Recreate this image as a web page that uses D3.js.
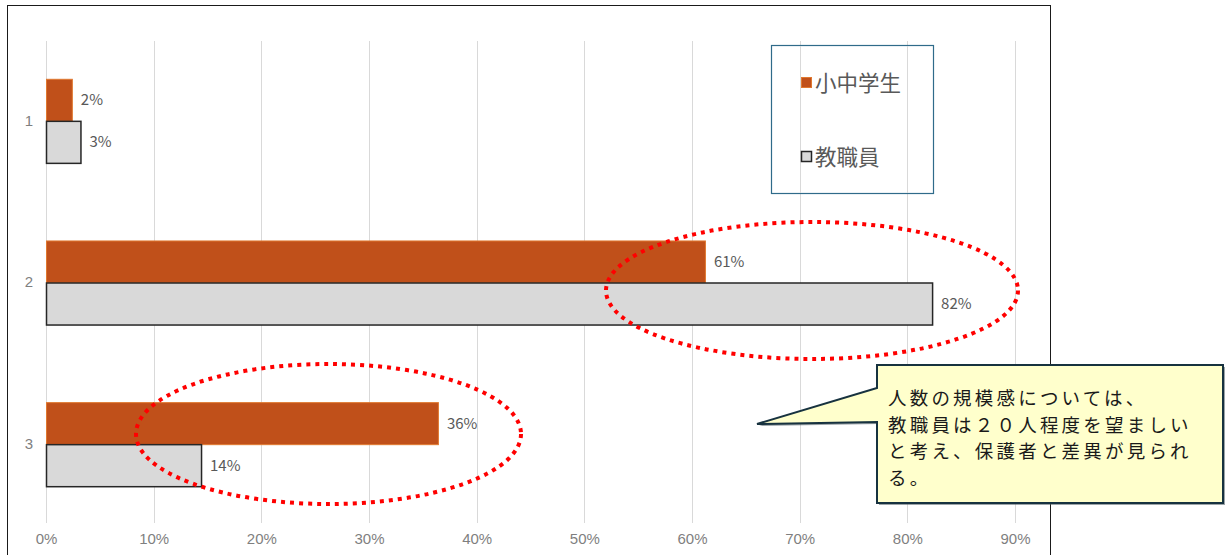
<!DOCTYPE html>
<html>
<head>
<meta charset="utf-8">
<script src="https://cdn.jsdelivr.net/npm/d3@7"></script>
<style>
  html, body { margin: 0; padding: 0; background: #fff; }
  svg { display: block; font-family: "Noto Sans CJK JP", "Noto Sans", sans-serif; }
</style>
</head>
<body>
<svg id="chart" width="1229" height="555"></svg>
<script>
// Survey responses by option (share of respondents)
const categories = ["1", "2", "3"];
const seriesNames = ["小中学生", "教職員"];
const studentValues = [0.024, 0.612, 0.364];
const staffValues = [0.032, 0.823, 0.144];
const tickValues = [0, 0.1, 0.2, 0.3, 0.4, 0.5, 0.6, 0.7, 0.8, 0.9];
const calloutLines = [
  "人数の規模感については、",
  "教職員は２０人程度を望ましい",
  "と考え、保護者と差異が見られ",
  "る。"
];

const colors = { "小中学生": "#c0501a", "教職員": "#d9d9d9" };
const strokes = { "小中学生": "#e0782f", "教職員": "#262626" };
const valuesBySeries = { "小中学生": studentValues, "教職員": staffValues };

const svg = d3.select("#chart");

// outer chart frame
svg.append("rect")
  .attr("x", 7.5).attr("y", 5.5)
  .attr("width", 1043).attr("height", 600)
  .attr("fill", "none").attr("stroke", "#1a1a1a").attr("stroke-width", 1);

const x = d3.scaleLinear().domain([0, 0.9]).range([46, 1015]);
const y = d3.scaleBand().domain(categories).range([40, 525]).paddingInner(0.48).paddingOuter(0.24);
const ySub = d3.scaleBand().domain(seriesNames).range([0, y.bandwidth()]);

// vertical gridlines
svg.append("g").selectAll("line")
  .data(tickValues).join("line")
  .attr("x1", d => Math.round(x(d)) + 0.5).attr("x2", d => Math.round(x(d)) + 0.5)
  .attr("y1", 41).attr("y2", 523)
  .attr("stroke", "#d9d9d9").attr("stroke-width", 1);

// x axis tick labels
const xAxis = d3.axisBottom(x).tickValues(tickValues).tickFormat(d3.format(".0%")).tickSize(0).tickPadding(0);
const gx = svg.append("g").attr("transform", "translate(0,533)").call(xAxis);
gx.select(".domain").remove();
gx.selectAll("text").attr("fill", "#7f7f7f").attr("font-size", 15).attr("dy", "0.71em");

// y axis category labels
const yAxis = d3.axisLeft(y).tickSize(0).tickPadding(0);
const gy = svg.append("g").attr("transform", "translate(33,0)").call(yAxis);
gy.select(".domain").remove();
gy.selectAll("text").attr("fill", "#7f7f7f").attr("font-size", 15);

// bars
const rows = [];
categories.forEach((c, i) => {
  seriesNames.forEach(s => rows.push({ cat: c, series: s, value: valuesBySeries[s][i] }));
});

const fmt = d3.format(".0%");
const barG = svg.append("g");
barG.selectAll("rect").data(rows).join("rect")
  .attr("x", x(0) + 0.5)
  .attr("y", d => y(d.cat) + ySub(d.series) + 0.5)
  .attr("width", d => x(d.value) - x(0))
  .attr("height", ySub.bandwidth())
  .attr("fill", d => colors[d.series])
  .attr("stroke", d => strokes[d.series])
  .attr("stroke-width", d => d.series === "教職員" ? 1.5 : 1);

barG.selectAll("text").data(rows).join("text")
  .attr("x", d => x(d.value) + 9)
  .attr("y", d => y(d.cat) + ySub(d.series) + ySub.bandwidth() / 2)
  .attr("dy", "0.36em")
  .attr("fill", "#595959").attr("font-size", 15)
  .text(d => fmt(d.value));

// legend
const legend = svg.append("g");
legend.append("rect")
  .attr("x", 771.5).attr("y", 45.5).attr("width", 162).attr("height", 148)
  .attr("fill", "#fff").attr("stroke", "#2f6b8a").attr("stroke-width", 1.2);
// gridlines show through the legend box
legend.selectAll("line.g").data(tickValues.filter(t => x(t) > 772 && x(t) < 933)).join("line")
  .attr("x1", d => Math.round(x(d)) + 0.5).attr("x2", d => Math.round(x(d)) + 0.5)
  .attr("y1", 46).attr("y2", 193).attr("stroke", "#d9d9d9");
const legendY = [83, 157];
seriesNames.forEach((s, i) => {
  legend.append("rect")
    .attr("x", 801.5).attr("y", legendY[i] - 5.5).attr("width", 10).attr("height", 10)
    .attr("fill", colors[s]).attr("stroke", strokes[s]).attr("stroke-width", s === "教職員" ? 1.5 : 1);
  legend.append("text")
    .attr("x", 815).attr("y", legendY[i]).attr("dy", "0.36em")
    .attr("fill", "#595959").attr("font-size", 21.5)
    .text(s);
});

// dotted highlight ellipses
const ellipses = [
  { cx: 812, cy: 290.5, rx: 206, ry: 68.5 },
  { cx: 328.5, cy: 434, rx: 192.5, ry: 70 }
];
svg.append("g").selectAll("ellipse").data(ellipses).join("ellipse")
  .attr("cx", d => d.cx).attr("cy", d => d.cy)
  .attr("rx", d => d.rx).attr("ry", d => d.ry)
  .attr("fill", "none").attr("stroke", "#ff0000")
  .attr("stroke-width", 4).attr("stroke-dasharray", "4 5");

// callout box with pointer
const callout = svg.append("g");
const bx = 877, by = 365, bw = 346, bh = 138;
const path = d3.path();
path.moveTo(bx, by);
path.lineTo(bx + bw, by);
path.lineTo(bx + bw, by + bh);
path.lineTo(bx, by + bh);
path.lineTo(bx, 422);
path.lineTo(757, 424);
path.lineTo(bx, 388);
path.closePath();
callout.append("path")
  .attr("d", path.toString())
  .attr("transform", "translate(2,2)")
  .attr("fill", "#4a5a60").attr("opacity", 0.55);
callout.append("path")
  .attr("d", path.toString())
  .attr("fill", "#ffffcc").attr("stroke", "#17323f").attr("stroke-width", 2)
  .attr("stroke-linejoin", "miter");
callout.append("g").selectAll("text").data(calloutLines).join("text")
  .attr("x", 888)
  .attr("y", (d, i) => 398 + i * 26.9)
  .attr("dy", "0.36em")
  .attr("fill", "#1a1a1a").attr("font-size", 18.5)
  .attr("letter-spacing", 3.2)
  .text(d => d);
</script>
</body>
</html>
